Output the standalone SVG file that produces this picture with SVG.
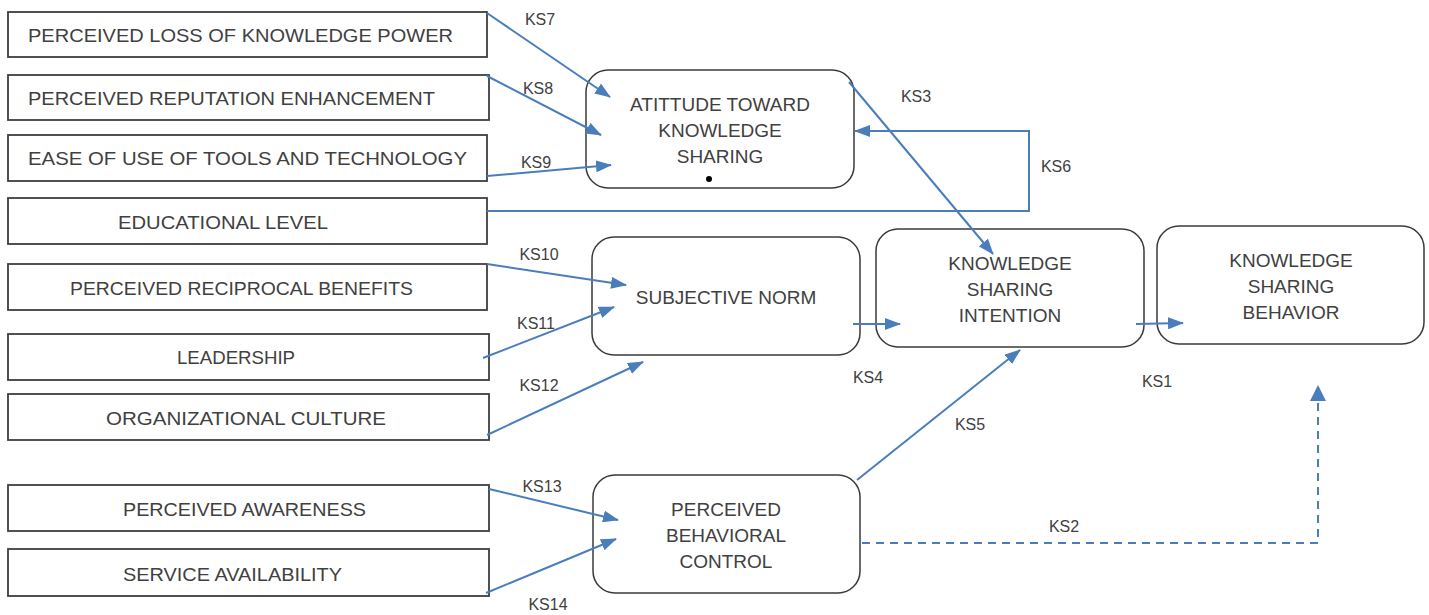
<svg xmlns="http://www.w3.org/2000/svg" width="1429" height="615" viewBox="0 0 1429 615">
<style>
.bx{fill:#fff;stroke:#3f3f3f;stroke-width:1.8}
.rb{fill:#fff;stroke:#3a3a3a;stroke-width:1.5}
.t{font-family:"Liberation Sans",Arial,sans-serif;font-size:19px;fill:#404040}
.c{text-anchor:middle}
.k{font-family:"Liberation Sans",Arial,sans-serif;font-size:16px;fill:#404040;text-anchor:middle}
.ln{fill:none;stroke:#4a7dbb;stroke-width:2;marker-end:url(#ah)}
.nl{fill:none;stroke:#4a7dbb;stroke-width:2}
.ds{fill:none;stroke:#4a7dbb;stroke-width:2;stroke-dasharray:8 6}
</style>
<defs>
<marker id="ah" viewBox="0 0 16 12" refX="15" refY="6" markerWidth="16" markerHeight="12" markerUnits="userSpaceOnUse" orient="auto">
<path d="M0,0 L16,6 L0,12 z" fill="#4a7dbb"/>
</marker>
</defs>
<rect width="1429" height="615" fill="#fff"/>

<g id="n-loss"><rect class="bx" x="8" y="12" width="479" height="45"/><text class="t" x="28" y="42" textLength="425" lengthAdjust="spacingAndGlyphs">PERCEIVED LOSS OF KNOWLEDGE POWER</text></g>
<g id="n-reputation"><rect class="bx" x="8" y="75" width="481" height="45"/><text class="t" x="28" y="105" textLength="407" lengthAdjust="spacingAndGlyphs">PERCEIVED REPUTATION ENHANCEMENT</text></g>
<g id="n-ease"><rect class="bx" x="8" y="135" width="479" height="46"/><text class="t" x="28" y="165" textLength="439" lengthAdjust="spacingAndGlyphs">EASE OF USE OF TOOLS AND TECHNOLOGY</text></g>
<g id="n-education"><rect class="bx" x="8" y="198" width="479" height="46"/><text class="t" x="118" y="229" textLength="210" lengthAdjust="spacingAndGlyphs">EDUCATIONAL LEVEL</text></g>
<g id="n-reciprocal"><rect class="bx" x="8" y="264" width="479" height="46"/><text class="t" x="70" y="295" textLength="343" lengthAdjust="spacingAndGlyphs">PERCEIVED RECIPROCAL BENEFITS</text></g>
<g id="n-leadership"><rect class="bx" x="8" y="334" width="481" height="46"/><text class="t" x="177" y="364" textLength="118" lengthAdjust="spacingAndGlyphs">LEADERSHIP</text></g>
<g id="n-culture"><rect class="bx" x="8" y="394" width="481" height="46"/><text class="t" x="106" y="425" textLength="280" lengthAdjust="spacingAndGlyphs">ORGANIZATIONAL CULTURE</text></g>
<g id="n-awareness"><rect class="bx" x="8" y="485" width="481" height="46"/><text class="t" x="123" y="516" textLength="243" lengthAdjust="spacingAndGlyphs">PERCEIVED AWARENESS</text></g>
<g id="n-service"><rect class="bx" x="8" y="549" width="481" height="47"/><text class="t" x="123" y="581" textLength="219" lengthAdjust="spacingAndGlyphs">SERVICE AVAILABILITY</text></g>

<g id="n-attitude"><rect class="rb" x="586" y="70" width="268" height="118" rx="22"/>
<text class="t c" x="720" y="111">ATITTUDE TOWARD</text>
<text class="t c" x="720" y="137">KNOWLEDGE</text>
<text class="t c" x="720" y="163">SHARING</text>
<circle cx="709" cy="179" r="3" fill="#000"/></g>
<g id="n-subjective"><rect class="rb" x="592" y="237" width="268" height="118" rx="22"/>
<text class="t c" x="726" y="304">SUBJECTIVE NORM</text></g>
<g id="n-intention"><rect class="rb" x="876" y="229" width="268" height="118" rx="22"/>
<text class="t c" x="1010" y="270">KNOWLEDGE</text>
<text class="t c" x="1010" y="296">SHARING</text>
<text class="t c" x="1010" y="322">INTENTION</text></g>
<g id="n-behavior"><rect class="rb" x="1157" y="226" width="267" height="118" rx="22"/>
<text class="t c" x="1291" y="267">KNOWLEDGE</text>
<text class="t c" x="1291" y="293">SHARING</text>
<text class="t c" x="1291" y="319">BEHAVIOR</text></g>
<g id="n-control"><rect class="rb" x="593" y="475" width="267" height="118" rx="22"/>
<text class="t c" x="726" y="516">PERCEIVED</text>
<text class="t c" x="726" y="542">BEHAVIORAL</text>
<text class="t c" x="726" y="568">CONTROL</text></g>

<g id="connectors">
<path class="ln" d="M487,13 L610,97"/>
<path class="ln" d="M487,76 L601,135"/>
<path class="ln" d="M487,176 L611,165"/>
<path class="ln" d="M487,211 L1029,211 L1029,131 L855,131"/>
<path class="ln" d="M849,82 L993,254"/>
<path class="ln" d="M487,264 L626,285"/>
<path class="ln" d="M483,358 L614,307"/>
<path class="ln" d="M487,435 L643,362"/>
<path class="ln" d="M853,324 L900,324"/>
<path class="ln" d="M1136,324 L1183,323"/>
<path class="ln" d="M857,480 L1020,350"/>
<path class="ln" d="M489,489 L618,520"/>
<path class="ln" d="M486,593 L616,539"/>
<path class="ds" d="M862,543 L1318,543 L1318,402"/>
<path d="M1310,401 L1318,385 L1326,401 z" fill="#4a7dbb"/>
</g>

<g id="labels">
<text class="k" x="540" y="25">KS7</text>
<text class="k" x="538" y="94">KS8</text>
<text class="k" x="536" y="168">KS9</text>
<text class="k" x="916" y="102">KS3</text>
<text class="k" x="1056" y="172">KS6</text>
<text class="k" x="539" y="260">KS10</text>
<text class="k" x="536" y="329">KS11</text>
<text class="k" x="539" y="391">KS12</text>
<text class="k" x="868" y="383">KS4</text>
<text class="k" x="1157" y="387">KS1</text>
<text class="k" x="970" y="430">KS5</text>
<text class="k" x="1064" y="532">KS2</text>
<text class="k" x="542" y="492">KS13</text>
<text class="k" x="548" y="610">KS14</text>
</g>
</svg>
